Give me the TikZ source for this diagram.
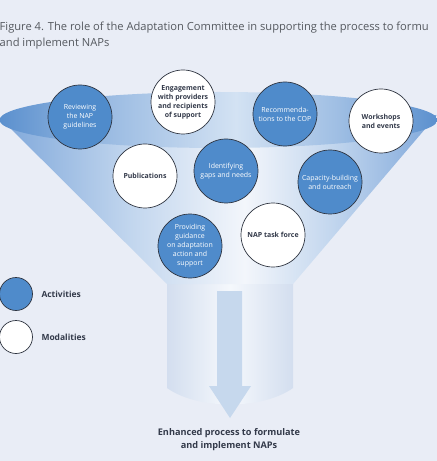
\documentclass[tikz,border=0pt]{standalone}
\usepackage{fontspec}
\setmainfont{Open Sans}
\definecolor{bgc}{HTML}{E9EDF6}
\definecolor{actblue}{HTML}{4F8BCB}
\definecolor{edgec}{HTML}{2E3440}
\definecolor{txtdark}{HTML}{333A4A}
\definecolor{titlec}{HTML}{55595F}
\definecolor{coneEdge}{HTML}{7EA7DA}
\definecolor{coneMid}{HTML}{C2D6EE}
\definecolor{coneCenter}{HTML}{F3F6FB}
\definecolor{rimEdge}{HTML}{5B90CE}
\definecolor{rimMid}{HTML}{9DBDE3}
\definecolor{rimCenter}{HTML}{D3E2F3}
\definecolor{stemEdge}{HTML}{D3DEEF}
\definecolor{stemCenter}{HTML}{F5F8FC}
\definecolor{arrowc}{HTML}{C6D8ED}
\pgfdeclarehorizontalshading{conesh}{100bp}{color(0bp)=(coneEdge); color(25bp)=(coneEdge); color(40bp)=(coneMid); color(53bp)=(coneCenter); color(63bp)=(coneMid); color(75bp)=(coneEdge); color(100bp)=(coneEdge)}
\pgfdeclarehorizontalshading{rimsh}{100bp}{color(0bp)=(rimEdge); color(25bp)=(rimEdge); color(38bp)=(rimMid); color(52bp)=(rimCenter); color(64bp)=(rimMid); color(75bp)=(rimEdge); color(100bp)=(rimEdge)}
\pgfdeclarehorizontalshading{stemsh}{100bp}{color(0bp)=(stemEdge); color(25bp)=(stemEdge); color(50bp)=(stemCenter); color(75bp)=(stemEdge); color(100bp)=(stemEdge)}
\begin{document}
\begin{tikzpicture}[x=1bp,y=-1bp,
  circ/.style={circle,draw=edgec,line width=0.7pt,minimum size=64bp,inner sep=0pt,align=center,font=\fontsize{7}{9}\selectfont},
  act/.style={circ,fill=actblue,text=white},
  moda/.style={circ,fill=white,text=txtdark,font=\bfseries\fontsize{7}{9}\selectfont},
  legc/.style={circle,draw=edgec,line width=0.7pt,minimum size=33bp,inner sep=0pt},
  legt/.style={anchor=west,text=txtdark,font=\bfseries\fontsize{8.5}{10}\selectfont},
  titlet/.style={anchor=base west,text=titlec,font=\fontsize{11.2}{13}\selectfont,inner sep=0pt}]
\useasboundingbox (0,0) rectangle (437,461);
\fill[bgc] (0,0) rectangle (437,461);
% title
\node[titlet] (t1) at (-0.5,31) {Figure 4. The role of the Adaptation Committee in supporting the process to formu};
\node[titlet] (t2) at (-0.5,46.5) {and implement NAPs};
% funnel
\shade[shading=stemsh] (167,283) -- (293,283) -- (293,388) .. controls (262,410) and (198,410) .. (167,388) -- cycle;
\shade[shading=conesh] (0,118) -- (167,284) -- (293,284) -- (437,115) -- cycle;
\shade[shading=rimsh] (218.5,120) ellipse [x radius=219bp, y radius=28bp];
% arrow
\fill[arrowc] (217,291) -- (242,291) -- (242,386) -- (251,386) -- (230,418) -- (209,386) -- (217,386) -- cycle;
% circles
\node[act] (rev) at (80,117) {Reviewing\\the NAP\\guidelines};
\node[moda] (eng) at (183,102) {Engagement\\with providers\\and recipients\\of support};
\node[act] (rec) at (285,114) {Recommenda-\\tions to the COP};
\node[moda] (wor) at (381,121) {Workshops\\and events};
\node[moda] (pub) at (145,176) {Publications};
\node[act] (ide) at (226,171) {Identifying\\gaps and needs};
\node[act] (cap) at (330,182) {Capacity-building\\and outreach};
\node[act] (pro) at (190,246) {Providing\\guidance\\on adaptation\\action and\\support};
\node[moda] (nap) at (273,235) {NAP task force};
% legend
\node[legc,fill=actblue] (la) at (16,294) {};
\node[legt] (lat) at (38,294) {Activities};
\node[legc,fill=white] (lm) at (16,337) {};
\node[legt] (lmt) at (38,337) {Modalities};
% output label
\node[align=center,text=txtdark,font=\bfseries\fontsize{9.2}{13}\selectfont] (out) at (229,439.5) {Enhanced process to formulate\\and implement NAPs};
\end{tikzpicture}
\end{document}
